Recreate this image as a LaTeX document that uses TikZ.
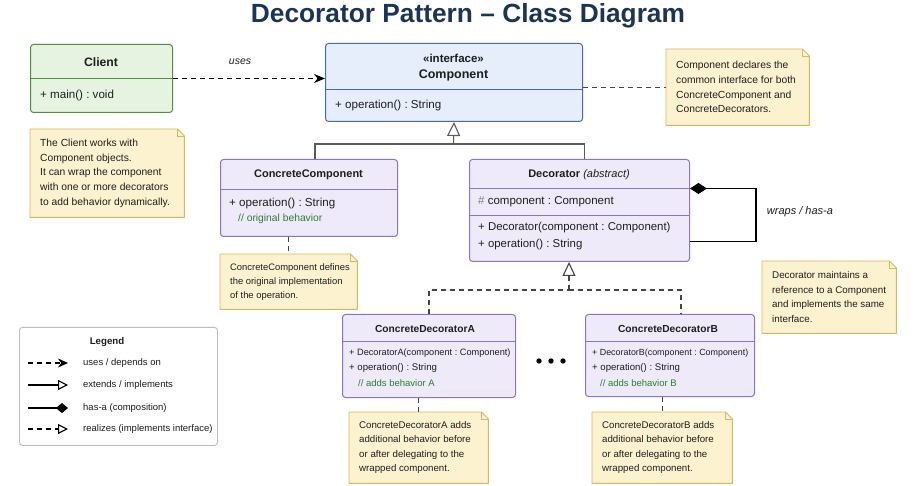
\documentclass[tikz,border=0pt]{standalone}
\usepackage{fontspec}
\setmainfont{Liberation Sans}
\usetikzlibrary{arrows.meta}
\frenchspacing
\definecolor{titlec}{HTML}{1B3556}
\definecolor{gfill}{HTML}{E7F3E1}
\definecolor{gdraw}{HTML}{4F8F3F}
\definecolor{bfill}{HTML}{E6EDFB}
\definecolor{bdraw}{HTML}{4D66B0}
\definecolor{pfill}{HTML}{EEEAFA}
\definecolor{pdraw}{HTML}{8C72C9}
\definecolor{nfill}{HTML}{FCF2CF}
\definecolor{ndraw}{HTML}{D9B75E}
\definecolor{cmt}{HTML}{2E7D32}
\definecolor{linec}{HTML}{444444}
\definecolor{inhc}{HTML}{5A5A5A}
\definecolor{txt}{HTML}{1E1E1E}
\definecolor{legdraw}{HTML}{BBBBBB}
\newcommand\fs[1]{\fontsize{#1pt}{#1pt}\selectfont}
\tikzset{
  cls/.style={rounded corners=3pt, line width=1pt, inner sep=0pt, anchor=north west},
  div/.style={line width=0.9pt},
  ctitle/.style={inner sep=0pt, text=txt},
  member/.style={inner sep=0pt, anchor=west, text=txt},
  comment/.style={inner sep=0pt, anchor=west, text=cmt},
  notebox/.style={inner sep=0pt, anchor=north west},
  notebg/.style={fill=nfill, draw=ndraw, line width=0.9pt, line join=round},
  notetext/.style={inner sep=0pt, anchor=west, align=left, text=txt},
  conn/.style={draw=linec, line width=1.1pt},
  dsh/.style={dash pattern=on 5pt off 4pt},
  usesarrow/.style={-{Stealth[length=11pt,width=9pt]}},
  inharrow/.style={-{Triangle[open,length=14pt,width=13pt,fill=white]}},
  comparrow/.style={{Diamond[length=17pt,width=11pt]}-},
  legtext/.style={inner sep=0pt, anchor=west, text=txt, font=\fs{9.5}},
  dotnode/.style={circle, fill=black, inner sep=0pt, minimum size=5.4pt}
}
\newcommand\mknote[7]{%
  \node[notebox, minimum width=#4pt, minimum height=#5pt] (#1) at (#2,#3) {};
  \filldraw[notebg] (#1.north west) -- ([xshift=-7pt]#1.north east) -- ([yshift=-7pt]#1.north east) -- (#1.south east) -- (#1.south west) -- cycle;
  \draw[notebg, fill=none] ([xshift=-7pt]#1.north east) -- ([xshift=-7pt,yshift=-7pt]#1.north east) -- ([yshift=-7pt]#1.north east);
  \node[notetext, font=#6] (#1t) at ([xshift=10pt]#1.west) {#7};
}
\begin{document}
\begin{tikzpicture}[x=1pt,y=-1pt]
\fill[white] (0,0) rectangle (921,486);
\useasboundingbox (0,0) rectangle (921,486);

% Title
\node[inner sep=0pt, text=titlec, font=\bfseries\fs{26.3}] (title) at (468,16) {Decorator Pattern – Class Diagram};

% Client
\node[cls, draw=gdraw, fill=gfill, minimum width=142pt, minimum height=68pt] (client) at (30,44) {};
\draw[gdraw, div] (30,78) -- (172,78);
\node[ctitle, font=\bfseries\fs{12.2}] (clientT) at (101,62) {Client};
\node[member, font=\fs{11.6}] (clientM) at (40,96) {+ main() : void};

% Component
\node[cls, draw=bdraw, fill=bfill, minimum width=257pt, minimum height=78pt] (comp) at (325,43) {};
\draw[bdraw, div] (325,89) -- (582,89);
\node[ctitle, font=\bfseries\fs{11.5}] (compS) at (453.5,58) {«interface»};
\node[ctitle, font=\bfseries\fs{12.5}] (compT) at (453.5,75) {Component};
\node[member, font=\fs{11.6}] (compM) at (335,106) {+ operation() : String};

% ConcreteComponent
\node[cls, draw=pdraw, fill=pfill, minimum width=177pt, minimum height=77pt] (cc) at (220,159) {};
\draw[pdraw, div] (220,189) -- (397,189);
\node[ctitle, font=\bfseries\fs{11}] (ccT) at (308.5,175) {ConcreteComponent};
\node[member, font=\fs{11.6}] (ccM) at (229,204) {+ operation() : String};
\node[comment, font=\fs{10.3}] (ccC) at (238,219) {// original behavior};

% Decorator
\node[cls, draw=pdraw, fill=pfill, minimum width=220pt, minimum height=102pt] (dec) at (469,159) {};
\draw[pdraw, div] (469,188) -- (689,188);
\draw[pdraw, div] (469,215) -- (689,215);
\node[ctitle, font=\fs{11}] (decT) at (579,175) {\textbf{Decorator} \textit{(abstract)}};
\node[member, font=\fs{11.5}] (decA) at (478,202) {{\color{gray}\#} component : Component};
\node[member, font=\fs{11.4}] (decM1) at (478,228) {+ Decorator(component : Component)};
\node[member, font=\fs{11.4}] (decM2) at (478,245) {+ operation() : String};

% ConcreteDecoratorA
\node[cls, draw=pdraw, fill=pfill, minimum width=173pt, minimum height=83pt] (cda) at (342,314) {};
\draw[pdraw, div] (342,341) -- (515,341);
\node[ctitle, font=\bfseries\fs{10.2}] (cdaT) at (425,329) {ConcreteDecoratorA};
\node[member, font=\fs{9.2}] (cdaM1) at (349,353) {+ DecoratorA(component : Component)};
\node[member, font=\fs{9.6}] (cdaM2) at (349,368) {+ operation() : String};
\node[comment, font=\fs{9.5}] (cdaC) at (358,383) {// adds behavior A};

% ConcreteDecoratorB
\node[cls, draw=pdraw, fill=pfill, minimum width=169pt, minimum height=82pt] (cdb) at (585,314) {};
\draw[pdraw, div] (585,341) -- (754,341);
\node[ctitle, font=\bfseries\fs{10.2}] (cdbT) at (668,329) {ConcreteDecoratorB};
\node[member, font=\fs{8.9}] (cdbM1) at (592,353) {+ DecoratorB(component : Component)};
\node[member, font=\fs{9.6}] (cdbM2) at (592,368) {+ operation() : String};
\node[comment, font=\fs{9.5}] (cdbC) at (600,383) {// adds behavior B};

% dots
\node[dotnode] (d1) at (539,361) {};
\node[dotnode] (d2) at (551,361) {};
\node[dotnode] (d3) at (563,361) {};

% Notes
\mknote{cnote}{666}{49}{143}{76}{\fontsize{10.3}{14.7}\selectfont}{Component declares the\\common interface for both\\ConcreteComponent and\\ConcreteDecorators.}
\mknote{clnote}{30}{129}{154}{88}{\fontsize{10.3}{14.8}\selectfont}{The Client works with\\Component objects.\\It can wrap the component\\with one or more decorators\\to add behavior dynamically.}
\mknote{ccnote}{220}{254}{137}{55}{\fontsize{9.4}{14}\selectfont}{ConcreteComponent defines\\the original implementation\\of the operation.}
\mknote{dnote}{762}{261}{134}{72}{\fontsize{9.8}{14.5}\selectfont}{Decorator maintains a\\reference to a Component\\and implements the same\\interface.}
\mknote{anote}{349}{412}{139}{71}{\fontsize{9.7}{14.5}\selectfont}{ConcreteDecoratorA adds\\additional behavior before\\or after delegating to the\\wrapped component.}
\mknote{bnote}{592}{412}{140}{71}{\fontsize{9.7}{14.5}\selectfont}{ConcreteDecoratorB adds\\additional behavior before\\or after delegating to the\\wrapped component.}

% Connectors
\draw[conn, dsh, usesarrow, draw=black] (client.east) -- (client.east -| comp.west);
\node[inner sep=0pt, font=\itshape\fs{10.5}, text=txt] (usesL) at (240,62) {uses};
\draw[conn, dsh] (cnote.west -| comp.east) -- (cnote.west);
\draw[conn, dsh] (cc.south -| ccnote.north) -- (ccnote.north);
\draw[conn, dsh] (cda.south -| anote.north) -- (anote.north);
\draw[conn, dsh] (cdb.south -| bnote.north) -- (bnote.north);

\coordinate (j1) at (453.5,144);
\draw[conn, draw=inhc] ([xshift=6pt]cc.north) |- (j1);
\draw[conn, draw=inhc] (j1) -| ([xshift=5pt]dec.north);
\draw[conn, draw=inhc, inharrow] (j1) -- (comp.south);

\coordinate (j2) at (569,290);
\draw[conn, dsh, inharrow] (j2) -- (j2 |- dec.south);
\draw[conn, dsh] (cda.north) |- (j2);
\draw[conn, dsh] (j2) -| ([xshift=11pt]cdb.north);

\draw[conn, draw=black, comparrow] ([yshift=22pt]dec.east) -- ++(66,0) |- ([yshift=-31pt]dec.east);
\node[inner sep=0pt, font=\itshape\fs{11}, text=txt] (wraps) at (800,212) {wraps / has-a};

% Legend
\node[rounded corners=3pt, draw=legdraw, fill=white, line width=0.9pt, inner sep=0pt, anchor=north west, minimum width=198pt, minimum height=118pt] (legend) at (19,327) {};
\node[inner sep=0pt, font=\bfseries\fs{9.7}, text=txt] (legT) at (107,342) {Legend};
\coordinate (l1a) at (28,363); \coordinate (l1b) at (68,363);
\coordinate (l2a) at (28,385); \coordinate (l2b) at (68,385);
\coordinate (l3a) at (28,408); \coordinate (l3b) at (68,408);
\coordinate (l4a) at (28,429); \coordinate (l4b) at (68,429);
\draw[conn, draw=black, dsh, -{Stealth[length=10pt,width=9pt]}] (l1a) -- (l1b);
\draw[conn, draw=black, -{Triangle[open,length=10pt,width=10pt,fill=white]}] (l2a) -- (l2b);
\draw[conn, draw=black, -{Diamond[length=12pt,width=10pt]}] (l3a) -- (l3b);
\draw[conn, draw=black, dsh, -{Triangle[open,length=10pt,width=10pt,fill=white]}] (l4a) -- (l4b);
\node[legtext] (lt1) at (83,363) {uses / depends on};
\node[legtext] (lt2) at (83,385) {extends / implements};
\node[legtext] (lt3) at (83,408) {has-a (composition)};
\node[legtext] (lt4) at (83,429) {realizes (implements interface)};
\end{tikzpicture}
\end{document}
